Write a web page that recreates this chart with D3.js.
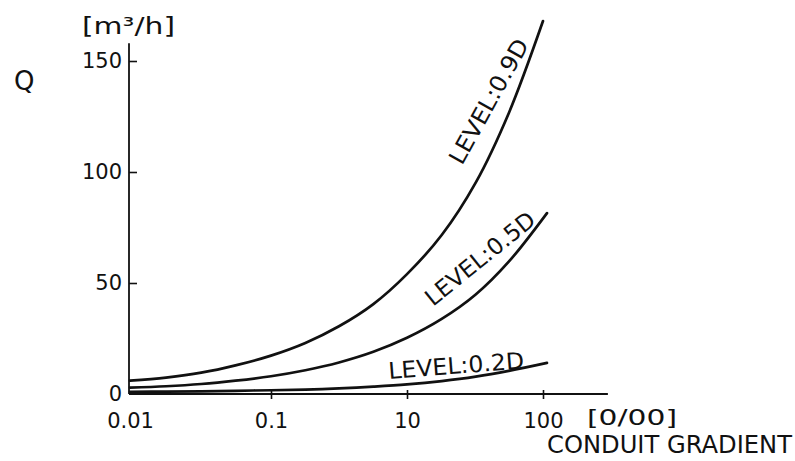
<!DOCTYPE html>
<html>
<head>
<meta charset="utf-8">
<script src="https://cdn.jsdelivr.net/npm/d3@7"></script>
<style>
	html, body {margin: 0; padding: 0; background: #fff;}
	svg {display: block;}
	text {font-family: "DejaVu Sans", sans-serif; fill: #111;}
</style>
</head>
<body>
<svg></svg>
<script>
var width = 795
var height = 461

// x ticks as printed on the drawing (equally spaced steps)
var xTicks = [0.01, 0.1, 10, 100]
var xTickLabels = ['0.01', '0.1', '10', '100']
var yTicks = [0, 50, 100, 150]

var grad = [0.01, 0.018, 0.032, 0.056, 0.1, 0.32, 1, 3.2, 10, 18, 32, 56, 100]
var gradEnd = [0.01, 0.018, 0.032, 0.056, 0.1, 0.32, 1, 3.2, 10, 18, 32, 56, 107]

// level 0.9D
var q09 = [6, 7.4, 9.6, 12.9, 17.3, 23, 30.5, 40.5, 54, 71.6, 95.2, 126.5, 168]
// level 0.5D
var q05 = [2.9, 3.5, 4.5, 6, 8, 10.7, 14.2, 19, 25.3, 33.8, 44.8, 59.6, 81.5]
// level 0.2D
var q02 = [1.0, 1.1, 1.2, 1.45, 1.7, 2.0, 2.5, 3.3, 4.3, 5.8, 7.8, 10.4, 14]

var series = [
	{name: 'LEVEL:0.9D', x: grad, y: q09},
	{name: 'LEVEL:0.5D', x: gradEnd, y: q05},
	{name: 'LEVEL:0.2D', x: gradEnd, y: q02}
]

var svg = d3.select('svg').attr('width', width).attr('height', height)

// piecewise log scale so the printed ticks land where they are drawn
var x = d3.scaleLog().domain(xTicks).range([130, 271, 407, 543])
var y = d3.scaleLinear().domain([0, 150]).range([394, 61])

var xEnd = 300, yTop = 158

// axes
svg.append('line')
	.attr('x1', x(0.01) - 1).attr('x2', x(xEnd))
	.attr('y1', y(0)).attr('y2', y(0))
	.attr('stroke', '#111').attr('stroke-width', 1.8)
svg.append('line')
	.attr('x1', x(0.01) - 1).attr('x2', x(0.01) - 1)
	.attr('y1', y(0)).attr('y2', y(yTop))
	.attr('stroke', '#111').attr('stroke-width', 1.8)

var xAxis = svg.append('g')
	.attr('transform', 'translate(0,' + y(0) + ')')
	.call(d3.axisBottom(x).tickValues(xTicks).tickSize(5).tickPadding(14)
		.tickFormat(function(d, i) {return xTickLabels[i]}))
xAxis.select('.domain').remove()
xAxis.selectAll('.tick line').attr('y1', -4).attr('stroke', '#111').attr('stroke-width', 1.6)
	.filter(function(d) {return d === 0.01}).remove()
xAxis.selectAll('.tick text').attr('font-size', 21).attr('font-family', '"DejaVu Sans", sans-serif').attr('fill', '#111')

var yAxis = svg.append('g')
	.attr('transform', 'translate(' + (x(0.01) - 1) + ',0)')
	.call(d3.axisLeft(y).tickValues(yTicks).tickSize(-8).tickPadding(7))
yAxis.select('.domain').remove()
yAxis.selectAll('.tick line').attr('stroke', '#111').attr('stroke-width', 1.6)
	.filter(function(d) {return d === 0}).remove()
yAxis.selectAll('.tick text').attr('font-size', 21).attr('font-family', '"DejaVu Sans", sans-serif').attr('fill', '#111')

// curves
var line = d3.line()
	.x(function(d) {return x(d[0])})
	.y(function(d) {return y(d[1])})
	.curve(d3.curveCatmullRom.alpha(0.5))

svg.append('g').selectAll('path')
	.data(series)
	.enter().append('path')
	.attr('d', function(s) {return line(s.x.map(function(v, i) {return [v, s.y[i]]}))})
	.attr('fill', 'none')
	.attr('stroke', '#111')
	.attr('stroke-width', 2.7)
	.attr('stroke-linecap', 'round')

// curve labels
var labelPos = [
	{x: 462, y: 166, rot: -61, len: 139},
	{x: 433, y: 307, rot: -39, len: 134},
	{x: 389, y: 379, rot: -4.5, len: 136}
]
svg.append('g').selectAll('text')
	.data(series)
	.enter().append('text')
	.attr('transform', function(s, i) {return 'translate(' + labelPos[i].x + ',' + labelPos[i].y + ') rotate(' + labelPos[i].rot + ')'})
	.attr('font-size', 23)
	.attr('textLength', function(s, i) {return labelPos[i].len})
	.attr('lengthAdjust', 'spacingAndGlyphs')
	.text(function(s) {return s.name})

// titles
svg.append('text').attr('x', 82).attr('y', 34).attr('font-size', 23)
	.attr('textLength', 93).attr('lengthAdjust', 'spacingAndGlyphs')
	.text('[m³/h]')
svg.append('text').attr('x', 14).attr('y', 90).attr('font-size', 26).text('Q')
svg.append('text').attr('x', 587).attr('y', 425).attr('font-size', 21)
	.attr('textLength', 90).attr('lengthAdjust', 'spacingAndGlyphs')
	.text('[0/00]')
svg.append('text').attr('x', 547).attr('y', 453).attr('font-size', 24)
	.attr('textLength', 245).attr('lengthAdjust', 'spacingAndGlyphs')
	.text('CONDUIT GRADIENT')
</script>
</body>
</html>
